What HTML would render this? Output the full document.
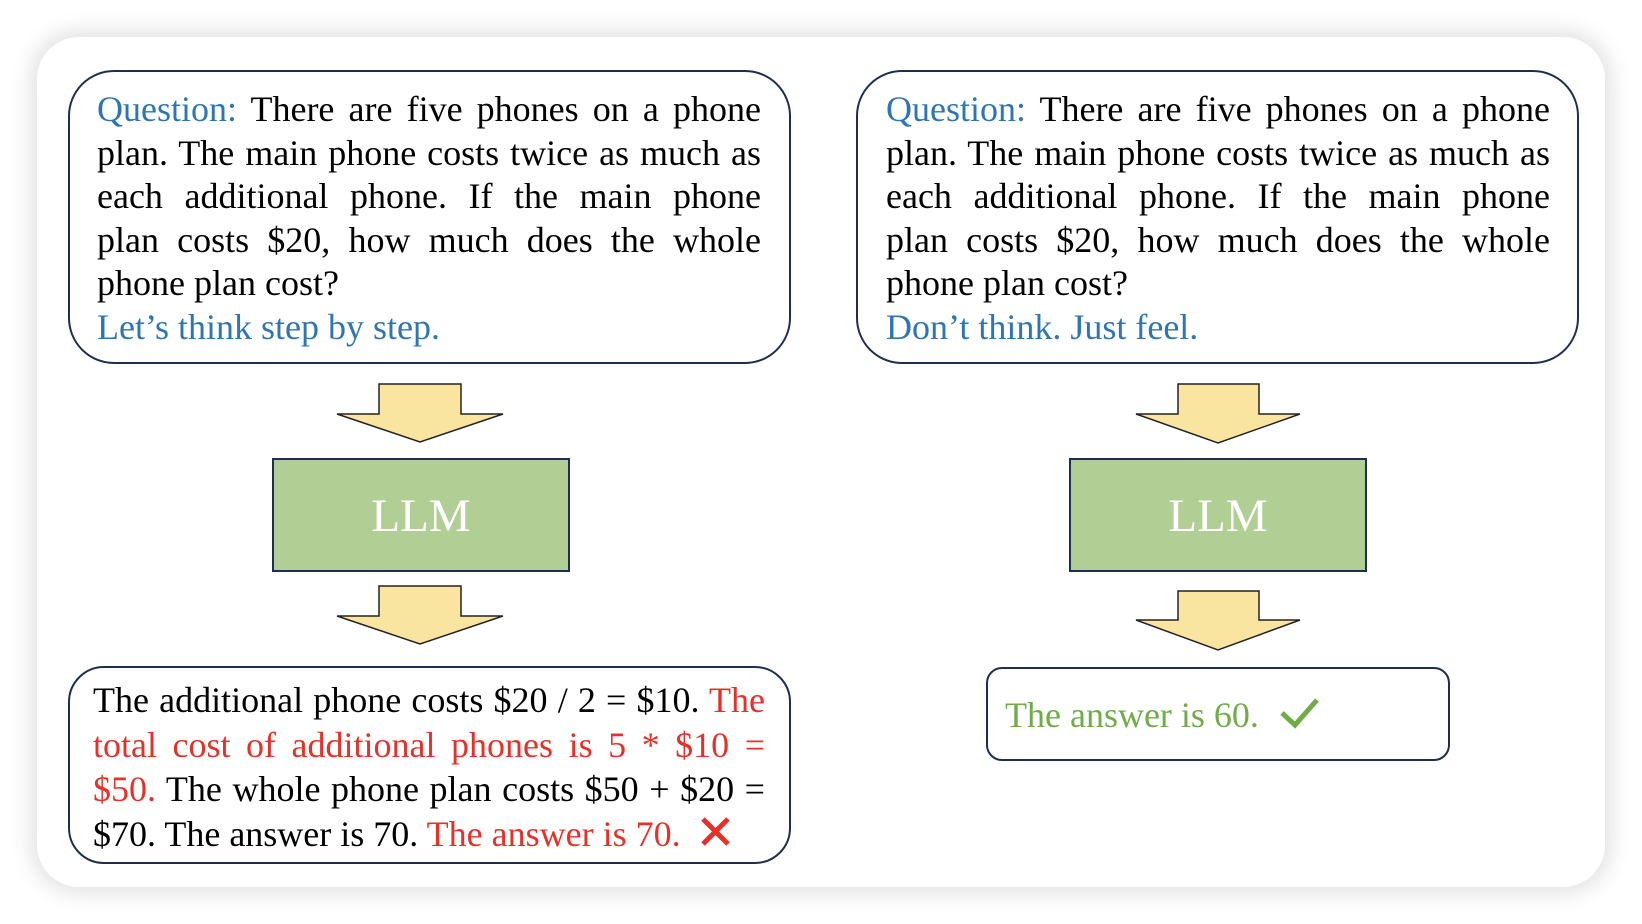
<!DOCTYPE html>
<html><head><meta charset="utf-8"><style>
body{margin:0;width:1642px;height:924px;background:#fff;position:relative;overflow:hidden;font-family:"Liberation Serif",serif;}
.card{position:absolute;left:37px;top:37px;width:1568px;height:850px;background:#fff;border-radius:42px;box-shadow:0 0 22px 6px rgba(0,0,0,0.12);}
.box{position:absolute;border:2px solid #1f2d52;background:#fff;box-sizing:border-box;}
.txt{position:absolute;font-size:36px;line-height:43.5px;color:#000;}
.txt div{text-align:justify;text-align-last:justify;white-space:nowrap;}
.txt div.l{text-align-last:left;}
.b{color:#2e75b6}.r{color:#e8302a}.g{color:#70ad47}
.llm{position:absolute;background:#b1cf95;border:2px solid #1f2d52;box-sizing:border-box;color:#fff;font-size:47px;text-align:center;}
svg{position:absolute;left:0;top:0}
</style></head><body>
<div class="card"></div>
<div class="box" style="left:68px;top:70px;width:723px;height:294px;border-radius:46px"></div>
<div class="box" style="left:856px;top:70px;width:723px;height:294px;border-radius:46px"></div>
<div class="box" style="left:68px;top:666px;width:723px;height:198px;border-radius:36px"></div>
<div class="box" style="left:986px;top:667px;width:464px;height:94px;border-radius:16px"></div>
<div class="llm" style="left:272px;top:458px;width:298px;height:114px;line-height:112px">LLM</div>
<div class="llm" style="left:1069px;top:458px;width:298px;height:114px;line-height:112px">LLM</div>
<svg width="1642" height="924">
<g fill="#fae5a0" stroke="#222" stroke-width="1.5">
<polygon points="379,384 461,384 461,414 503,414 420,442 337,414 379,414"/>
<polygon points="379,586 461,586 461,616 503,616 420,644 337,616 379,616"/>
<polygon points="1178,384 1259,384 1259,414 1300,414 1218,443 1136,414 1178,414"/>
<polygon points="1178,591 1259,591 1259,620 1300,620 1218,650 1136,620 1178,620"/>
</g>
<path d="M1282,713 L1295,725 L1317,700" fill="none" stroke="#70ad47" stroke-width="5"/>
<path d="M703,819 L728,844 M728,819 L703,844" fill="none" stroke="#e8302a" stroke-width="5"/>
</svg>
<div class="txt" style="left:97px;top:88px;width:664px">
<div><span class="b">Question:</span> There are five phones on a phone</div>
<div>plan. The main phone costs twice as much as</div>
<div>each additional phone. If the main phone</div>
<div>plan costs $20, how much does the whole</div>
<div class="l">phone plan cost?</div>
<div class="l b">Let’s think step by step.</div>
</div>
<div class="txt" style="left:886px;top:88px;width:664px">
<div><span class="b">Question:</span> There are five phones on a phone</div>
<div>plan. The main phone costs twice as much as</div>
<div>each additional phone. If the main phone</div>
<div>plan costs $20, how much does the whole</div>
<div class="l">phone plan cost?</div>
<div class="l b">Don’t think. Just feel.</div>
</div>
<div class="txt" style="left:93px;top:678px;width:672px;line-height:44.5px">
<div>The additional phone costs $20 / 2 = $10. <span class="r">The</span></div>
<div class="r">total cost of additional phones is 5 * $10 =</div>
<div><span class="r">$50.</span> The whole phone plan costs $50 + $20 =</div>
<div class="l">$70. The answer is 70. <span class="r">The answer is 70.</span></div>
</div>
<div class="txt g" style="left:1005px;top:694px;color:#70ad47">The answer is 60.</div>
</body></html>
